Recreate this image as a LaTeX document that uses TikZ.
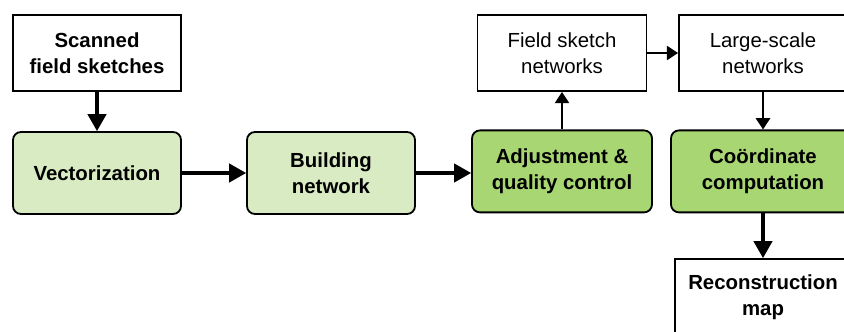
\documentclass[tikz,border=0pt]{standalone}
\usepackage{fontspec}
\setmainfont{Liberation Sans}
\usetikzlibrary{positioning, arrows.meta}
\definecolor{lightgreen}{RGB}{216,235,194}
\definecolor{darkgreen}{RGB}{168,214,115}

\begin{document}
\begin{tikzpicture}[node distance=3cm, on grid,
    every node/.style={font=\fontsize{14.5}{18.5}\selectfont, align=center},
    plainbox/.style={draw, line width=1.3pt, minimum width=4.2cm, minimum height=1.9cm},
    stepgreen/.style={draw, line width=1.3pt, rounded corners=0.2cm, minimum height=2.05cm, font=\fontsize{14.5}{18.5}\selectfont\bfseries},
    bigarrow/.style={line width=2.2pt, -{Triangle[length=12pt,width=13pt]}},
    smallarrow/.style={line width=1.6pt, -{Triangle[length=8pt,width=10pt]}}]
\clip (0,0) rectangle (21.1,8.275);

% main row
\node[stepgreen, fill=lightgreen, minimum width=4.2cm] (vec) at (2.425,3.95) {Vectorization};
\node[stepgreen, fill=lightgreen, minimum width=4.2cm, right=5.85cm of vec] (build) {Building\\network};
\node[stepgreen, fill=darkgreen, minimum width=4.5cm, right=5.775cm of build, yshift=0.04cm] (adj) {Adjustment \&\\quality control};
\node[stepgreen, fill=darkgreen, minimum width=4.6cm, right=5.025cm of adj] (coord) {Coördinate\\computation};

% plain boxes
\node[plainbox, font=\fontsize{14.5}{18.5}\selectfont\bfseries] (scan) [above=3cm of vec] {Scanned\\field sketches};
\node[plainbox, minimum width=4.225cm] (field) [above=2.96cm of adj] {Field sketch\\networks};
\node[plainbox] (large) [above=2.96cm of coord] {Large-scale\\networks};
\node[plainbox, minimum width=4.4cm, font=\fontsize{14.5}{18.5}\selectfont\bfseries] (recon) [below=3.14cm of coord] {Reconstruction\\map};

% arrows
\draw[bigarrow] (scan) -- (vec);
\draw[bigarrow] (vec) -- (build);
\draw[bigarrow] (build.east) -- (build.east -| adj.west);
\draw[smallarrow] (adj) -- (field);
\draw[smallarrow] (field) -- (large);
\draw[smallarrow] (large) -- (coord);
\draw[bigarrow] (coord) -- (recon);
\end{tikzpicture}
\end{document}
